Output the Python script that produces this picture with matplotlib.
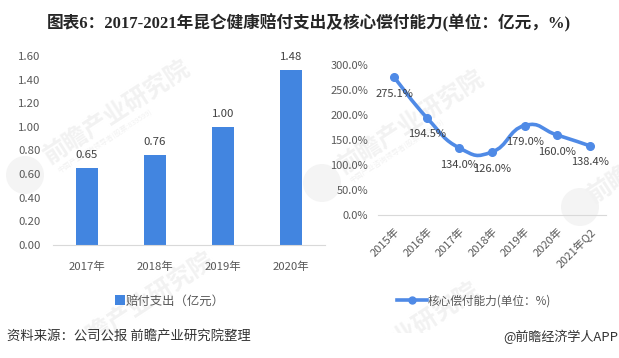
import matplotlib
matplotlib.use('Agg')
import matplotlib.pyplot as plt
from matplotlib.path import Path
from matplotlib.patches import PathPatch, Ellipse, Rectangle
from matplotlib.lines import Line2D

plt.rcParams['font.family'] = ['Noto Sans CJK SC', 'DejaVu Sans']

years = ['2017年', '2018年', '2019年', '2020年']
payout = [0.65, 0.76, 1.00, 1.48]
payout_ticks = [0, 0.2, 0.4, 0.6, 0.8, 1.0, 1.2, 1.4, 1.6]

periods = ['2015年', '2016年', '2017年', '2018年', '2019年', '2020年', '2021年Q2']
solvency = [275.1, 194.5, 134.0, 126.0, 179.0, 160.0, 138.4]
solvency_ticks = [0, 50, 100, 150, 200, 250, 300]

W, H = 619, 358
blue = '#4285E0'
line_blue = '#4F8AE6'
grey = '#595959'
axis_grey = '#D9D9D9'
mark_grey = '#F2F2F2'


def px_axes(fig, x0, y0, x1, y1):
    # pixel box measured from the top left corner
    return fig.add_axes([x0 / W, 1 - y1 / H, (x1 - x0) / W, (y1 - y0) / H])


def smooth_path(xs, ys, k=0.25):
    # bezier through the points, like the smoothed line in excel
    verts = [(xs[0], ys[0])]
    codes = [Path.MOVETO]
    n = len(xs)
    for i in range(n - 1):
        a = max(i - 1, 0)
        d = min(i + 2, n - 1)
        verts.append((xs[i] + (xs[i + 1] - xs[a]) * k, ys[i] + (ys[i + 1] - ys[a]) * k))
        verts.append((xs[i + 1] - (xs[d] - xs[i]) * k, ys[i + 1] - (ys[d] - ys[i]) * k))
        verts.append((xs[i + 1], ys[i + 1]))
        codes += [Path.CURVE4, Path.CURVE4, Path.CURVE4]
    return Path(verts, codes)


fig = plt.figure(figsize=(W / 100, H / 100), dpi=100)
fig.patch.set_facecolor('white')

# watermarks sit in their own axes behind the charts
bg = fig.add_axes([0, 0, 1, 1], zorder=-1)
bg.set_xlim(0, W)
bg.set_ylim(H, 0)
bg.axis('off')
for x, y in [(25, 175), (322, 183), (580, 207)]:
    bg.add_patch(Ellipse((x, y), 38, 38, color='#F4F4F4', lw=0))
for x, y in [(46, 158), (340, 168), (70, 350), (335, 380)]:
    bg.text(x, y, '前瞻产业研究院', fontsize=17.5, fontweight='bold', color=mark_grey,
            rotation=33, rotation_mode='anchor', ha='left', va='center', clip_on=True)
bg.text(590, 197, '前瞻', fontsize=17.5, fontweight='bold', color=mark_grey,
        rotation=33, rotation_mode='anchor', ha='left', va='center', clip_on=True)
for x, y in [(58, 171), (350, 181)]:
    bg.text(x, y, '中国产业咨询领导者(股票:839599)', fontsize=5.2, color=mark_grey,
            rotation=33, rotation_mode='anchor', ha='left', va='center')
bg.add_patch(Rectangle((0, 333), W, 25, color='white', lw=0, zorder=5))

# title
fig.text(0.4985, 1 - 23 / H, '图表6：2017-2021年昆仑健康赔付支出及核心偿付能力(单位：亿元，%)', ha='center', va='center',
         fontsize=12, fontweight='bold', color='#262626',
         family=['Liberation Serif', 'Noto Sans CJK SC'])

# left bar chart
ax = px_axes(fig, 53, 56, 325, 245)
ax.patch.set_alpha(0)
xpos = range(len(years))
bars = ax.bar(xpos, payout, width=0.31, color=blue)
for i, v in enumerate(payout):
    ax.annotate('%.2f' % v, (i, v), xytext=(0, 6), textcoords='offset points', ha='center', va='bottom',
                fontsize=8.2, color='#404040')
ax.set_xlim(-0.5, 3.5)
ax.set_ylim(0, 1.6)
ax.set_xticks(list(xpos))
ax.set_xticklabels(years, fontsize=8.2, color=grey)
ax.set_yticks(payout_ticks)
ax.set_yticklabels(['%.2f' % t for t in payout_ticks], fontsize=8.2, color=grey)
ax.tick_params(length=0, pad=9)
ax.tick_params(axis='x', pad=12)
for s in ['top', 'left', 'right']:
    ax.spines[s].set_visible(False)
ax.spines['bottom'].set_color(axis_grey)
leg = ax.legend([bars], ['赔付支出（亿元）'], loc='center', bbox_to_anchor=(170 / W, 1 - 301 / H), bbox_transform=fig.transFigure,
                frameon=False, fontsize=8.9, handlelength=0.8, handleheight=0.8, handletextpad=0.1, labelcolor=grey)

# right line chart
ax2 = px_axes(fig, 378, 65, 606, 215)
ax2.patch.set_alpha(0)
xs = list(range(len(periods)))
ax2.add_patch(PathPatch(smooth_path(xs, solvency), fc='none', ec=line_blue, lw=2.6, capstyle='round', zorder=3))
ax2.plot(xs, solvency, ls='none', marker='o', ms=5.5, color=line_blue, zorder=4)
for x, v in zip(xs, solvency):
    ax2.annotate('%.1f%%' % v, (x, v), xytext=(0, -12), textcoords='offset points', ha='center', va='center',
                 fontsize=8, color='#404040', zorder=5)
ax2.set_xlim(-0.5, 6.5)
ax2.set_ylim(0, 300)
ax2.set_xticks(xs)
ax2.set_xticklabels(periods, fontsize=8, color=grey, rotation=45, ha='right', rotation_mode='anchor')
ax2.set_yticks(solvency_ticks)
ax2.set_yticklabels(['%.1f%%' % t for t in solvency_ticks], fontsize=8, color=grey)
ax2.tick_params(length=0, pad=7)
ax2.tick_params(axis='x', pad=8)
for s in ['top', 'left', 'right']:
    ax2.spines[s].set_visible(False)
ax2.spines['bottom'].set_color(axis_grey)
handle = Line2D([], [], color=line_blue, lw=2.6, marker='o', ms=5)
ax2.legend([handle], ['核心偿付能力(单位：%)'], loc='center', bbox_to_anchor=(474 / W, 1 - 301 / H), bbox_transform=fig.transFigure,
           frameon=False, fontsize=8.4, handlelength=2.6, handletextpad=0.1, labelcolor=grey)

# footer
fig.text(7 / W, 1 - 337 / H, '资料来源：公司公报 前瞻产业研究院整理', fontsize=9.6, color='#333333', ha='left', va='center')
fig.text(618 / W, 1 - 337 / H, '@前瞻经济学人APP', fontsize=9.4, color='#333333', ha='right', va='center')

fig.savefig('out.png', dpi=100)
